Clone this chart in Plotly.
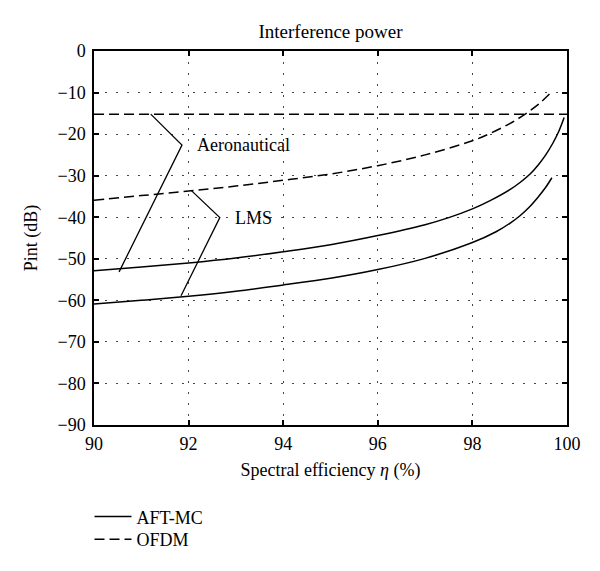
import plotly.graph_objects as go

# ---- data ----
aft_aero_x = [90, 91, 92, 93, 94, 95, 96, 97, 97.5, 98, 98.375, 98.8, 99.0, 99.22, 99.4, 99.55,
              99.7, 99.82, 99.94]
aft_aero_y = [-52.9, -52.0, -51.0, -49.8, -48.3, -46.6, -44.4, -41.8, -40.1, -38.0, -36.0, -33.3,
              -31.7, -29.6, -27.3, -25.0, -22.2, -19.5, -16.0]

aft_lms_x = [90, 91, 92, 93, 94, 95, 96, 97, 98, 98.5, 98.8, 99.0, 99.2, 99.4, 99.55, 99.68]
aft_lms_y = [-60.9, -60.0, -59.0, -57.8, -56.3, -54.7, -52.6, -49.9, -46.1, -43.5, -41.4, -39.7,
             -37.6, -35.0, -32.8, -30.5]

ofdm_aero_x = [90, 100]
ofdm_aero_y = [-15.2, -15.2]

ofdm_lms_x = [90, 91, 92, 93, 94, 95, 96, 97, 98, 98.4, 98.8, 99.1, 99.4, 99.68]
ofdm_lms_y = [-35.9, -34.8, -33.7, -32.5, -31.1, -29.6, -27.6, -25.0, -21.6, -19.7, -17.4, -15.3,
              -12.8, -9.8]

# pointer lines for the labels (data coordinates)
aero_ptr_x = [91.2, 91.86, 90.53]
aero_ptr_y = [-15.2, -22.65, -53.15]
lms_ptr_x = [92.06, 92.66, 91.84]
lms_ptr_y = [-33.6, -40.1, -58.9]

labels = ["Aeronautical", "LMS"]
label_x = [92.14, 92.93]
label_y = [-22.65, -40.1]

x_ticks = [90, 92, 94, 96, 98, 100]
y_ticks = [0, -10, -20, -30, -40, -50, -60, -70, -80, -90]

FONT = "Liberation Serif"
FS = 18
DASH = "10px,5px"

fig = go.Figure()

fig.add_trace(go.Scatter(x=aft_aero_x, y=aft_aero_y, mode="lines", name="AFT-MC",
                         legend="legend", legendgroup="aft",
                         line=dict(color="black", width=1.5, shape="spline")))
fig.add_trace(go.Scatter(x=aft_lms_x, y=aft_lms_y, mode="lines", name="AFT-MC",
                         legend="legend", legendgroup="aft", showlegend=False,
                         line=dict(color="black", width=1.5, shape="spline")))
fig.add_trace(go.Scatter(x=ofdm_aero_x, y=ofdm_aero_y, mode="lines", name="OFDM",
                         legend="legend2", legendgroup="ofdm",
                         line=dict(color="black", width=1.5, dash=DASH)))
fig.add_trace(go.Scatter(x=ofdm_lms_x, y=ofdm_lms_y, mode="lines", name="OFDM",
                         legend="legend2", legendgroup="ofdm", showlegend=False,
                         line=dict(color="black", width=1.5, dash=DASH, shape="spline")))

for px, py in [(aero_ptr_x, aero_ptr_y), (lms_ptr_x, lms_ptr_y)]:
    fig.add_trace(go.Scatter(x=px, y=py, mode="lines", showlegend=False, hoverinfo="skip",
                             line=dict(color="black", width=1.3)))

for t, lx, ly in zip(labels, label_x, label_y):
    fig.add_annotation(x=lx, y=ly, text=t, showarrow=False, xanchor="left", yanchor="middle",
                       font=dict(family=FONT, size=FS, color="black"))

axis_common = dict(
    showline=True, linecolor="black", linewidth=1.5, mirror="ticks",
    ticks="inside", ticklen=5, tickwidth=1.5, tickcolor="black",
    showgrid=True, gridcolor="#444", gridwidth=1.3, griddash="2px,9px",
    zeroline=False,
    tickfont=dict(family=FONT, size=FS, color="black"),
)

fig.update_xaxes(range=[90, 100], tickvals=x_ticks, ticktext=[str(v) for v in x_ticks],
                 ticklabelstandoff=2,
                 title=dict(text="Spectral efficiency <i>η</i> (%)", standoff=10,
                            font=dict(family=FONT, size=FS, color="black")),
                 **axis_common)
fig.update_yaxes(range=[-90, 0], tickvals=y_ticks, ticklabelstandoff=3,
                 title=dict(text="Pint (dB)", standoff=15,
                            font=dict(family=FONT, size=FS, color="black")),
                 **axis_common)

W, H = 592, 563  # page adds an 8px body margin around the figure
legend_common = dict(x=-0.0095, xanchor="left", yanchor="top", itemwidth=37,
                     font=dict(family=FONT, size=FS, color="black"),
                     bgcolor="rgba(0,0,0,0)")

fig.update_layout(
    width=W, height=H,
    margin=dict(l=86, r=33, t=43, b=146, autoexpand=False),
    paper_bgcolor="white", plot_bgcolor="white",
    title=dict(text="Interference power", x=0.5, xref="paper", xanchor="center",
               y=1 - 23 / H, yanchor="middle",
               font=dict(family=FONT, size=FS + 1, color="black")),
    showlegend=True,
    legend=dict(y=-0.196, **legend_common),
    legend2=dict(y=-0.257, **legend_common),
)

fig.write_html("out.html")
